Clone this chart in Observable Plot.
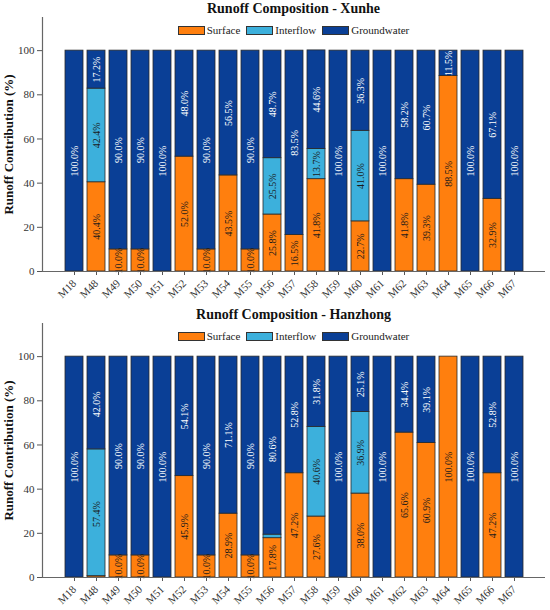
<!DOCTYPE html>
<html>
<head>
<meta charset="utf-8">
<script src="https://cdn.jsdelivr.net/npm/d3@7"></script>
<script src="https://cdn.jsdelivr.net/npm/@observablehq/plot@0.6"></script>
<style>
  body { margin: 0; background: #fff; font-family: "Liberation Serif", "Times New Roman", serif; }
  .panel { position: relative; width: 550px; }
  .title { height: 17px; line-height: 17px; font-size: 14px; font-weight: bold; color: #111;
           padding-left: 42px; padding-right: 5px; text-align: center; box-sizing: border-box; width: 550px; }
  .legend { position: absolute; left: 42px; right: 5px; top: 24px; display: flex; justify-content: center;
            align-items: center; font-size: 11px; color: #222; gap: 6px; }
  .legend .item { display: flex; align-items: center; gap: 2px; }
  .legend .sw { width: 25px; height: 7px; border: 1px solid #333; }
  svg { display: block; }
</style>
</head>
<body>
<div id="chart"></div>
<script>
const sites = ["M18","M48","M49","M50","M51","M52","M53","M54","M55","M56","M57","M58","M59","M60","M61","M62","M63","M64","M65","M66","M67"];
const components = ["Surface", "Interflow", "Groundwater"];
const colors = ["#ff7f0e", "#3cb0dc", "#0a3f96"];
const labelColors = ["#1a1a1a", "#1a1a1a", "#ffffff"];
const yTicks = [0, 20, 40, 60, 80, 100];

const xunheSurface     = [0, 40.4, 10.0, 10.0, 0, 52.0, 10.0, 43.5, 10.0, 25.8, 16.5, 41.8, 0, 22.7, 0, 41.8, 39.3, 88.5, 0, 32.9, 0];
const xunheInterflow   = [0, 42.4, 0, 0, 0, 0, 0, 0, 0, 25.5, 0, 13.7, 0, 41.0, 0, 0, 0, 0, 0, 0, 0];
const xunheGroundwater = [100, 17.2, 90.0, 90.0, 100, 48.0, 90.0, 56.5, 90.0, 48.7, 83.5, 44.6, 100, 36.3, 100, 58.2, 60.7, 11.5, 100, 67.1, 100];

const hanSurface       = [0, 0.6, 10.0, 10.0, 0, 45.9, 10.0, 28.9, 10.0, 17.8, 47.2, 27.6, 0, 38.0, 0, 65.6, 60.9, 100, 0, 47.2, 0];
const hanInterflow     = [0, 57.4, 0, 0, 0, 0, 0, 0, 0, 1.6, 0, 40.6, 0, 36.9, 0, 0, 0, 0, 0, 0, 0];
const hanGroundwater   = [100, 42.0, 90.0, 90.0, 100, 54.1, 90.0, 71.1, 90.0, 80.6, 52.8, 31.8, 100, 25.1, 100, 34.4, 39.1, 0, 100, 52.8, 100];

const panels = [
  {title: "Runoff Composition - Xunhe", series: [xunheSurface, xunheInterflow, xunheGroundwater]},
  {title: "Runoff Composition - Hanzhong", series: [hanSurface, hanInterflow, hanGroundwater]}
];

const root = document.getElementById("chart");
const FONT = "'Liberation Serif', 'Times New Roman', serif";

for (const p of panels) {
  const data = [];
  components.forEach((c, ci) => {
    sites.forEach((s, si) => {
      const v = p.series[ci][si];
      if (v > 0) data.push({site: s, comp: c, value: v});
    });
  });

  const panel = document.createElement("div");
  panel.className = "panel";
  const t = document.createElement("div");
  t.className = "title";
  t.textContent = p.title;
  panel.appendChild(t);

  const chart = Plot.plot({
    width: 550,
    height: 289,
    marginTop: 0,
    marginBottom: 35,
    marginLeft: 42,
    marginRight: 5,
    style: {fontFamily: FONT, fontSize: "11px", color: "#333", background: "#fff"},
    x: {domain: sites, range: [57.55, 530.05], paddingInner: 0.2, paddingOuter: 0.1, label: null},
    y: {domain: [0, 115], label: null},
    color: {domain: components, range: colors},
    marks: [
      Plot.barY(data, {x: "site", y: "value", fill: "comp", order: components, stroke: "#2a2a2a", strokeWidth: 0.8}),
      Plot.text(data.filter(d => d.value >= 5), Plot.stackY({
        x: "site", y: "value", z: "comp", order: components,
        text: d => d.value.toFixed(1) + "%",
        rotate: -90, fontSize: 10, fontFamily: FONT,
        fill: d => labelColors[components.indexOf(d.comp)]
      })),
      Plot.axisX({tickRotate: -45, tickSize: 4, tickPadding: 6, fontSize: 11, stroke: "#555", fontFamily: FONT}),
      Plot.axisY({ticks: yTicks, tickSize: 5, tickPadding: 3, fontSize: 11, stroke: "#555", fontFamily: FONT,
        label: "Runoff Contribution (%)", labelAnchor: "center", labelOffset: 39, labelArrow: "none"}),
      Plot.ruleY([0], {stroke: "#666", strokeWidth: 1.2}),
      Plot.frame({anchor: "left", stroke: "#666", strokeWidth: 1.2})
    ]
  });
  chart.querySelectorAll("g[aria-label='y-axis label'] text").forEach(el => {
    el.style.fontWeight = "bold"; el.style.fontSize = "13px"; el.style.fill = "#111";
  });
  panel.appendChild(chart);

  const lg = document.createElement("div");
  lg.className = "legend";
  components.forEach((c, i) => {
    const it = document.createElement("div");
    it.className = "item";
    const sw = document.createElement("div");
    sw.className = "sw";
    sw.style.background = colors[i];
    const tx = document.createElement("span");
    tx.textContent = c;
    it.appendChild(sw); it.appendChild(tx);
    lg.appendChild(it);
  });
  panel.appendChild(lg);
  root.appendChild(panel);
}
</script>
</body>
</html>
